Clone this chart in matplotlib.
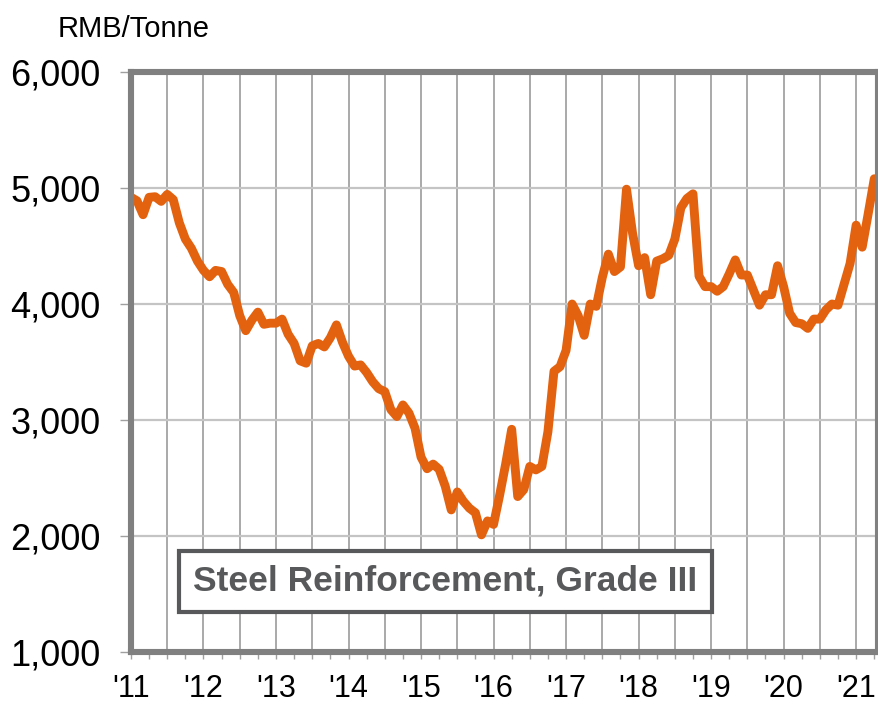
import numpy as np
import matplotlib
matplotlib.use("Agg")
import matplotlib.pyplot as plt
from matplotlib.ticker import MultipleLocator, FuncFormatter

plt.rcParams['font.family'] = ['Liberation Sans', 'DejaVu Sans']

# monthly price, Jan 2011 .. Apr 2021 (RMB/tonne)
start_year = 2011
prices = [
    4920, 4890, 4770, 4920, 4925, 4885, 4945, 4900, 4700, 4560, 4480, 4370,   # 2011
    4290, 4235, 4290, 4280, 4170, 4100, 3900, 3770, 3860, 3930, 3825, 3835,   # 2012
    3835, 3870, 3740, 3660, 3510, 3490, 3640, 3660, 3630, 3710, 3820, 3670,   # 2013
    3550, 3465, 3475, 3410, 3330, 3270, 3245, 3090, 3030, 3130, 3060, 2930,   # 2014
    2680, 2580, 2620, 2575, 2430, 2225, 2380, 2300, 2240, 2200, 2010, 2130,   # 2015
    2100, 2350, 2620, 2920, 2340, 2400, 2600, 2570, 2600, 2900, 3420, 3460,   # 2016
    3600, 4000, 3900, 3730, 4000, 3980, 4230, 4430, 4280, 4320, 4990, 4610,   # 2017
    4330, 4400, 4080, 4370, 4390, 4420, 4560, 4830, 4910, 4950, 4240, 4150,   # 2018
    4150, 4110, 4150, 4260, 4380, 4250, 4250, 4120, 3990, 4080, 4080, 4330,   # 2019
    4150, 3920, 3840, 3830, 3790, 3870, 3870, 3950, 4000, 3990, 4170, 4350,   # 2020
    4680, 4490, 4780, 5080,                                                   # 2021
]
unit_label = "RMB/Tonne"
series_name = "Steel Reinforcement, Grade III"

x = start_year + np.arange(len(prices)) / 12.0

fig = plt.figure(figsize=(8.79, 7.09), dpi=100)
ax = fig.add_axes([0.149, 0.0804, 0.8495, 0.818])

ax.plot(x, prices, color="#e36210", lw=6.4, solid_joinstyle="round",
        solid_capstyle="round", zorder=3)

ax.set_xlim(2011, 2021.297)
ax.set_ylim(1000, 6000)

ax.xaxis.set_major_locator(MultipleLocator(0.5))
ax.xaxis.set_minor_locator(MultipleLocator(0.25))
ax.xaxis.set_major_formatter(FuncFormatter(
    lambda v, p: "'%02d" % (int(round(v)) % 100) if abs(v - round(v)) < 1e-6 else ""))
ax.yaxis.set_major_locator(MultipleLocator(1000))
ax.yaxis.set_major_formatter(FuncFormatter(lambda v, p: f"{v:,.0f}"))

ax.grid(True, which="major", axis="x", color="#a2a2a2", lw=1.3, zorder=0)
ax.grid(True, which="major", axis="y", color="#c4c4c4", lw=1.6, zorder=0)
ax.tick_params(axis="x", which="both", direction="out", length=5, width=1,
               color="#a0a0a0", labelsize=22, pad=11)
ax.tick_params(axis="y", which="both", direction="out", length=8, width=1,
               color="#a0a0a0", labelsize=26, pad=14)

for s in ax.spines.values():
    s.set_color("#808080")
    s.set_linewidth(4.4)
    s.set_zorder(4)

fig.text(0.065, 0.948, unit_label, fontsize=21, ha="left", va="baseline")

ax.text(0.421, 0.122, series_name, transform=ax.transAxes, ha="center",
        va="center", fontsize=25.5, fontweight="bold", color="#58595b", zorder=5,
        bbox=dict(boxstyle="square,pad=0.4", fc="white", ec="#58595b", lw=3))

fig.savefig("out.png", dpi=100)
